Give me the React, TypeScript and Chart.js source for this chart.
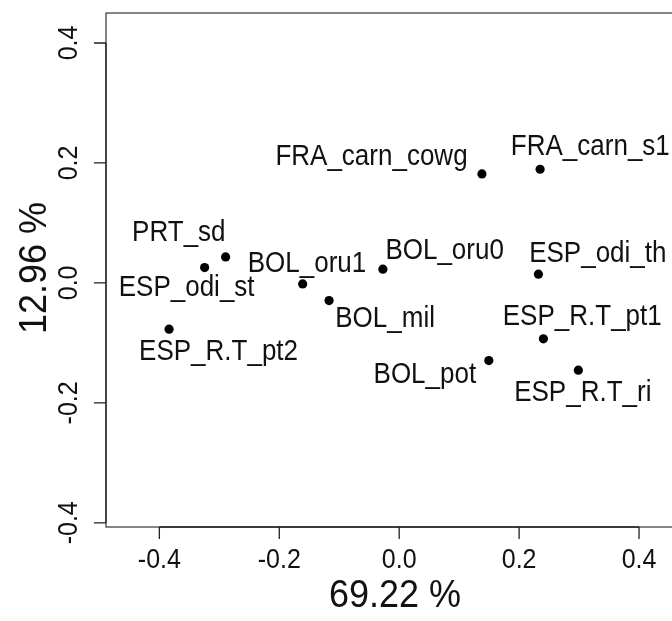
import { useEffect, useRef } from 'react';
import { Chart, registerables } from 'chart.js';

Chart.register(...registerables);

// ---- data ----
const sampleNames = [
  'FRA_carn_cowg', 'FRA_carn_s1', 'PRT_sd', 'ESP_odi_st', 'BOL_oru1', 'BOL_oru0',
  'ESP_odi_th', 'BOL_mil', 'ESP_R.T_pt2', 'ESP_R.T_pt1', 'BOL_pot', 'ESP_R.T_ri',
];
const dim1 = [0.138, 0.235, -0.2895, -0.3245, -0.161, -0.0272, 0.2322, -0.117, -0.3838, 0.2405, 0.1495, 0.2988];
const dim2 = [0.1817, 0.1895, 0.0433, 0.0255, -0.0017, 0.0228, 0.0145, -0.0295, -0.0772, -0.0933, -0.1295, -0.1455];
// label anchor (centre, baseline) in data units, as placed in the original plot
const labelX = [-0.0462, 0.3188, -0.3675, -0.3545, -0.1538, 0.0758, 0.3313, -0.0235, -0.3013, 0.3053, 0.0428, 0.3062];
const labelY = [0.1967, 0.2133, 0.07, -0.0217, 0.0183, 0.04, 0.035, -0.0733, -0.1283, -0.07, -0.1667, -0.1967];
const xTicks = [-0.4, -0.2, 0.0, 0.2, 0.4];
const yTicks = [-0.4, -0.2, 0.0, 0.2, 0.4];
const xTitle = '69.22 %';
const yTitle = '12.96 %';
const xRange = [-0.489, 0.475];
const yRange = [-0.407, 0.45];

const FONT = '"Liberation Sans", Arial, Helvetica, sans-serif';
const STRETCH = 1.1; // glyphs in the reference are slightly taller than wide

function tallText(ctx: CanvasRenderingContext2D, text: string, x: number, y: number, rot = 0) {
  ctx.save();
  ctx.translate(x, y);
  if (rot) ctx.rotate(rot);
  ctx.scale(1, STRETCH);
  ctx.fillText(text, 0, 0);
  ctx.restore();
}

const rPlot = {
  id: 'rPlot',
  afterDatasetsDraw(chart: any) {
    const { ctx, chartArea: a, scales } = chart;
    const xs = scales.x;
    const ys = scales.y;
    ctx.save();
    // box
    ctx.strokeStyle = '#444';
    ctx.lineWidth = 1.3;
    ctx.strokeRect(a.left, a.top, a.right - a.left, a.bottom - a.top);
    // axes
    ctx.strokeStyle = '#222';
    ctx.beginPath();
    const x0 = xs.getPixelForValue(xTicks[0]);
    const x1 = xs.getPixelForValue(xTicks[xTicks.length - 1]);
    ctx.moveTo(x0, a.bottom);
    ctx.lineTo(x1, a.bottom);
    for (const v of xTicks) {
      const px = xs.getPixelForValue(v);
      ctx.moveTo(px, a.bottom);
      ctx.lineTo(px, a.bottom + 12);
    }
    const y0 = ys.getPixelForValue(yTicks[0]);
    const y1 = ys.getPixelForValue(yTicks[yTicks.length - 1]);
    ctx.moveTo(a.left, y0);
    ctx.lineTo(a.left, y1);
    for (const v of yTicks) {
      const py = ys.getPixelForValue(v);
      ctx.moveTo(a.left, py);
      ctx.lineTo(a.left - 12, py);
    }
    ctx.stroke();

    ctx.fillStyle = '#111';
    ctx.textAlign = 'center';
    ctx.textBaseline = 'alphabetic';
    // x tick labels
    ctx.font = `25px ${FONT}`;
    for (const v of xTicks) {
      tallText(ctx, v.toFixed(1), xs.getPixelForValue(v), a.bottom + 41);
    }
    // y tick labels (rotated)
    for (const v of yTicks) {
      tallText(ctx, v.toFixed(1), a.left - 29, ys.getPixelForValue(v), -Math.PI / 2);
    }
    // titles
    ctx.font = `36px ${FONT}`;
    tallText(ctx, xTitle, (a.left + a.right) / 2, a.bottom + 80);
    tallText(ctx, yTitle, a.left - 60, (a.top + a.bottom) / 2 - 2, -Math.PI / 2);

    // point labels
    ctx.font = `26px ${FONT}`;
    for (let i = 0; i < sampleNames.length; i++) {
      tallText(ctx, sampleNames[i], xs.getPixelForValue(labelX[i]), ys.getPixelForValue(labelY[i]));
    }
    ctx.restore();
  },
};

export default function App() {
  const ref = useRef<HTMLCanvasElement | null>(null);
  useEffect(() => {
    if (!ref.current) return;
    const chart = new Chart(ref.current, {
      type: 'scatter',
      data: {
        datasets: [
          {
            data: dim1.map((x, i) => ({ x, y: dim2[i] })),
            pointRadius: 4.6,
            pointBackgroundColor: '#000',
            pointBorderWidth: 0,
            pointHoverRadius: 4.6,
          },
        ],
      },
      options: {
        responsive: false,
        animation: false,
        events: [],
        layout: { padding: { left: 0, top: 13, right: 36, bottom: 0 } },
        plugins: { legend: { display: false }, tooltip: { enabled: false } },
        scales: {
          x: {
            type: 'linear',
            min: xRange[0],
            max: xRange[1],
            ticks: { display: false },
            grid: { display: false },
            border: { display: false },
            afterFit: (s: any) => { s.height = 94; },
          },
          y: {
            type: 'linear',
            min: yRange[0],
            max: yRange[1],
            ticks: { display: false },
            grid: { display: false },
            border: { display: false },
            afterFit: (s: any) => { s.width = 106; },
          },
        },
      },
      plugins: [rPlot],
    });
    return () => chart.destroy();
  }, []);
  return (
    <div style={{ position: 'fixed', left: 0, top: 0, width: 672, height: 621, overflow: 'hidden', background: '#fff' }}>
      <canvas ref={ref} width={720} height={621} style={{ display: 'block', width: 720, height: 621 }} />
    </div>
  );
}
